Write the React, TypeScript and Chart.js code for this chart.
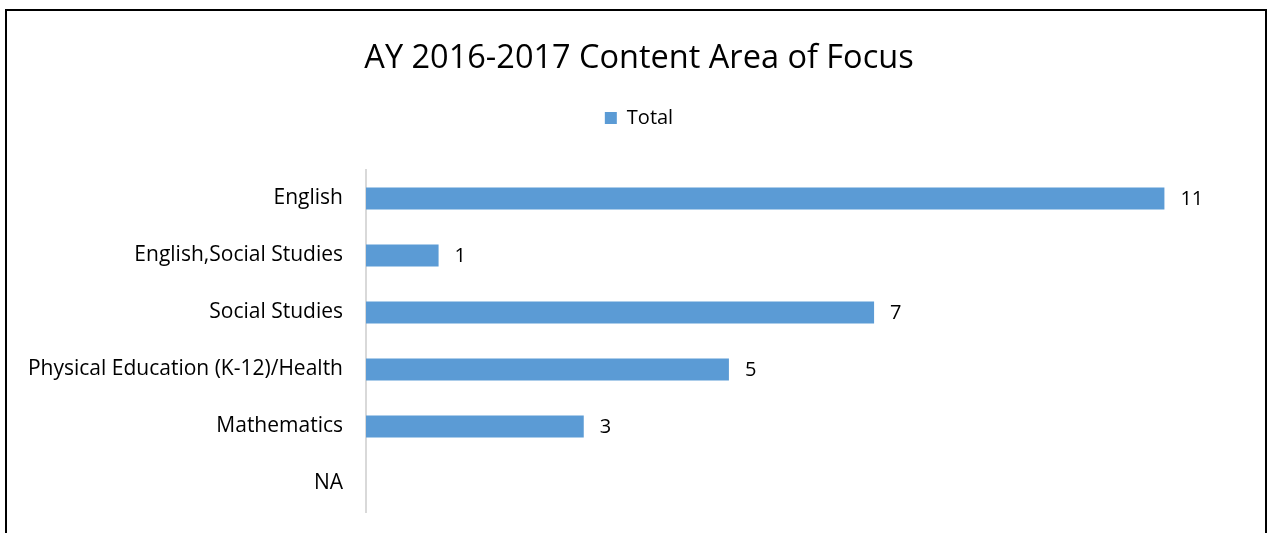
import React, { useEffect, useRef } from "react";
import { Chart, registerables } from "chart.js";

Chart.register(...registerables);

const TITLE = "AY 2016-2017 Content Area of Focus";
const SERIES_NAME = "Total";
const CATEGORIES = [
  "English",
  "English,Social Studies",
  "Social Studies",
  "Physical Education (K-12)/Health",
  "Mathematics",
  "NA",
];
const VALUES: (number | null)[] = [11, 1, 7, 5, 3, null];
const BAR_COLOR = "#5B9BD5";
const FONT = "'Open Sans', 'DejaVu Sans', sans-serif";

const valueLabels = {
  id: "valueLabels",
  afterDatasetsDraw(chart: any) {
    const ctx = chart.ctx;
    const meta = chart.getDatasetMeta(0);
    ctx.save();
    ctx.fillStyle = "#000";
    ctx.font = `20px ${FONT}`;
    ctx.textAlign = "left";
    ctx.textBaseline = "middle";
    meta.data.forEach((el: any, i: number) => {
      const v = VALUES[i];
      if (v === null || v === undefined) return;
      ctx.fillText(String(v), el.x + 16, el.y + 1);
    });
    ctx.restore();
  },
};

const legendSpacing = {
  id: "legendSpacing",
  beforeInit(chart: any) {
    const legend = chart.legend;
    if (!legend) return;
    const origFit = legend.fit;
    legend.fit = function () {
      origFit.call(this);
      this.height += 32;
    };
  },
  afterLayout(chart: any) {
    // let the long category labels extend into the left padding without clipping
    const y = chart.scales.y;
    if (y) y.left = 0;
  },
};

export default function App() {
  const ref = useRef<HTMLCanvasElement>(null);
  useEffect(() => {
    if (!ref.current) return;
    const chart = new Chart(ref.current, {
      type: "bar",
      data: {
        labels: CATEGORIES,
        datasets: [
          {
            label: SERIES_NAME,
            data: VALUES,
            backgroundColor: BAR_COLOR,
            borderWidth: 0,
            categoryPercentage: 1,
            barPercentage: 0.385,
          },
        ],
      },
      options: {
        indexAxis: "y",
        animation: false,
        responsive: false,
        maintainAspectRatio: false,
        layout: { padding: { left: 41, right: 31, top: 0, bottom: 21 } },
        plugins: {
          title: {
            display: true,
            text: TITLE,
            color: "#000",
            font: { family: FONT, size: 32.5, weight: "normal" },
            padding: { top: 39, bottom: 16 },
          },
          legend: {
            display: true,
            position: "top",
            labels: {
              boxWidth: 12,
              boxHeight: 12,
              color: "#000",
              font: { family: FONT, size: 20 },
              padding: 14,
            },
          },
          tooltip: { enabled: false },
        },
        scales: {
          x: {
            display: false,
            min: 0,
            max: 12,
          },
          y: {
            afterFit: (axis: any) => {
              axis.width = 325;
              axis.paddingTop = 0;
              axis.paddingBottom = 0;
            },
            grid: { display: false, drawTicks: false },
            border: { display: true, color: "#D9D9D9", width: 2 },
            ticks: {
              color: "#000",
              font: { family: FONT, size: 21 },
              padding: 23,
            },
          },
        },
      },
      plugins: [valueLabels, legendSpacing],
    });
    return () => chart.destroy();
  }, []);

  return (
    <div style={{ position: "fixed", left: 0, top: 0, width: 1268, height: 533, background: "#fff" }}>
      <div
        style={{
          position: "absolute",
          left: 5,
          top: 9,
          width: 1262,
          height: 600,
          border: "2px solid #000",
          boxSizing: "border-box",
        }}
      />
      <canvas ref={ref} width={1268} height={533} style={{ position: "absolute", left: 0, top: 0 }} />
    </div>
  );
}
